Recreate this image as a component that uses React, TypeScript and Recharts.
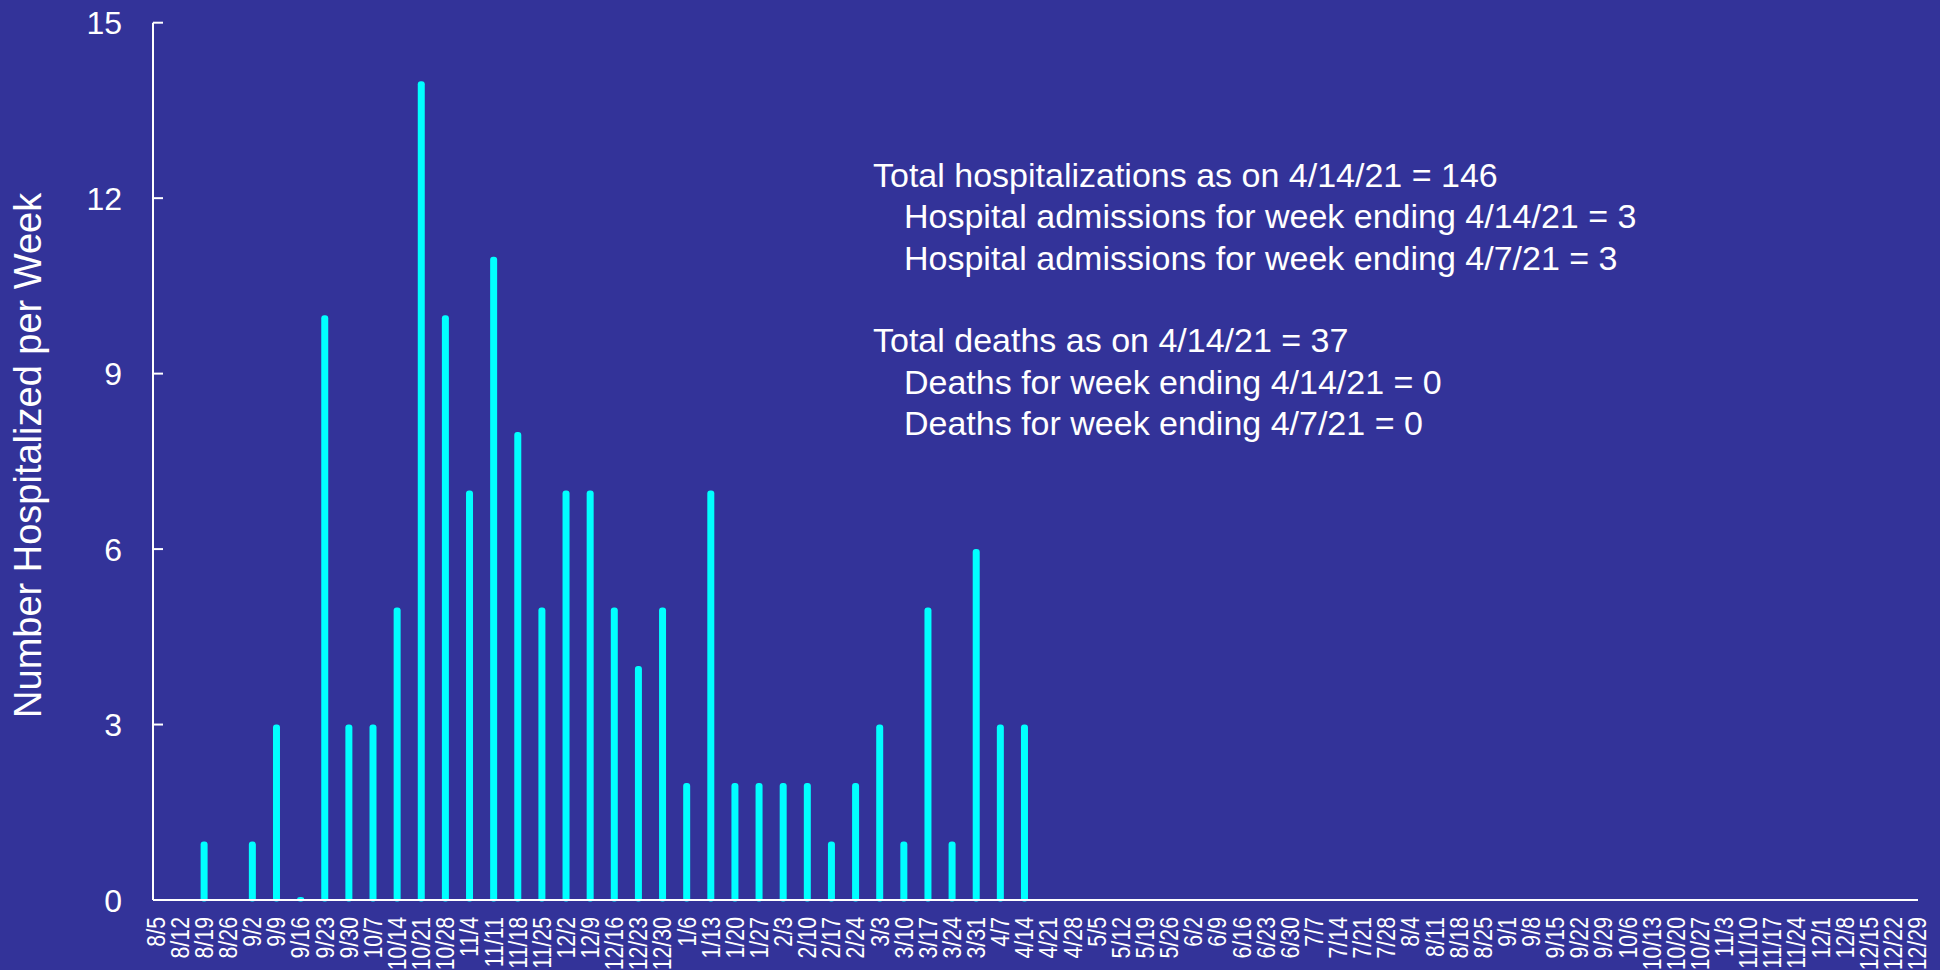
import { BarChart, Bar, XAxis, YAxis } from 'recharts';

const weeks = [
  '8/5', '8/12', '8/19', '8/26', '9/2', '9/9', '9/16', '9/23', '9/30', '10/7', '10/14', '10/21',
  '10/28', '11/4', '11/11', '11/18', '11/25', '12/2', '12/9', '12/16', '12/23', '12/30',
  '1/6', '1/13', '1/20', '1/27', '2/3', '2/10', '2/17', '2/24', '3/3', '3/10', '3/17', '3/24',
  '3/31', '4/7', '4/14', '4/21', '4/28', '5/5', '5/12', '5/19', '5/26', '6/2', '6/9', '6/16',
  '6/23', '6/30', '7/7', '7/14', '7/21', '7/28', '8/4', '8/11', '8/18', '8/25', '9/1', '9/8',
  '9/15', '9/22', '9/29', '10/6', '10/13', '10/20', '10/27', '11/3', '11/10', '11/17', '11/24',
  '12/1', '12/8', '12/15', '12/22', '12/29',
];

// weekly hospitalizations, reported through 4/14; null = no bar
const hospitalized: (number | null)[] = [
  null, null, 1, null, 1, 3, 0, 10, 3, 3, 5, 14, 10, 7, 11, 8, 5, 7, 7, 5, 4, 5,
  2, 7, 2, 2, 2, 2, 1, 2, 3, 1, 5, 1, 6, 3, 3,
];

const yTicks = [0, 3, 6, 9, 12, 15];

const notes = [
  { text: 'Total hospitalizations as on 4/14/21 = 146', indent: false },
  { text: 'Hospital admissions for week ending 4/14/21 = 3', indent: true },
  { text: 'Hospital admissions for week ending 4/7/21 = 3', indent: true },
  { text: '', indent: false },
  { text: 'Total deaths as on 4/14/21 = 37', indent: false },
  { text: 'Deaths for week ending 4/14/21 = 0', indent: true },
  { text: 'Deaths for week ending 4/7/21 = 0', indent: true },
];

const BG = '#333399';
const BAR = '#00FFFF';
const FONT = "'Liberation Sans', Arial, sans-serif";
const Y_GAP = 31;

const data = weeks.map((week, i) => ({ idx: i, week, value: hospitalized[i] ?? null }));

const StemBar = (props: any) => {
  const { x, y, width, height, payload } = props;
  if (payload == null || payload.value == null) return <g />;
  const h = Math.max(height || 0, 3);
  const top = y + (height || 0) - h;
  return <rect x={x} y={top} width={width} height={h + 1.5} rx={3} ry={3} fill={BAR} />;
};

const WeekTick = (props: any) => {
  const { x, y, payload } = props;
  return (
    <g transform={`translate(${x},${y}) rotate(-90)`}>
      <text
        transform="scale(0.82,1)"
        x={0}
        y={9.3}
        textAnchor="end"
        fill="#fff"
        fontSize={26}
        fontFamily={FONT}
      >
        {weeks[payload.value]}
      </text>
    </g>
  );
};

const CountTick = (props: any) => {
  const { x, y, payload } = props;
  return (
    <g>
      {payload.value !== 0 && (
        <line x1={x + Y_GAP} x2={x + Y_GAP + 10} y1={y} y2={y} stroke="#fff" strokeWidth={2} />
      )}
      <text x={x} y={y} dy="0.36em" textAnchor="end" fill="#fff" fontSize={32} fontFamily={FONT}>
        {payload.value}
      </text>
    </g>
  );
};

const YTitle = (props: any) => {
  const { viewBox } = props;
  const cx = viewBox.x - 12;
  const cy = viewBox.y + viewBox.height / 2 - 6;
  return (
    <text
      transform={`translate(${cx},${cy}) rotate(-90)`}
      textAnchor="middle"
      fill="#fff"
      fontSize={38}
      fontFamily={FONT}
    >
      Number Hospitalized per Week
    </text>
  );
};

export default function App() {
  return (
    <div
      style={{
        position: 'fixed',
        left: 0,
        top: 0,
        width: 1940,
        height: 970,
        background: BG,
        overflow: 'hidden',
      }}
    >
      <BarChart
        width={1940}
        height={970}
        data={data}
        margin={{ top: 22.7, right: 22, bottom: 0, left: 53 }}
      >
        <XAxis
          type="number"
          dataKey="idx"
          domain={[-0.1, 73.05]}
          ticks={weeks.map((_, i) => i)}
          interval={0}
          height={70}
          tickLine={false}
          tickSize={0}
          tickMargin={17}
          axisLine={{ stroke: '#fff', strokeWidth: 2 }}
          tick={<WeekTick />}
        />
        <YAxis
          type="number"
          domain={[0, 15]}
          ticks={yTicks}
          interval={0}
          width={100}
          tickLine={false}
          tickSize={0}
          tickMargin={Y_GAP}
          axisLine={{ stroke: '#fff', strokeWidth: 2 }}
          tick={<CountTick />}
          label={<YTitle />}
        />
        <Bar dataKey="value" barSize={7} shape={<StemBar />} isAnimationActive={false} />
      </BarChart>
      <svg
        width={1940}
        height={970}
        style={{ position: 'absolute', left: 0, top: 0, pointerEvents: 'none' }}
      >
        {notes.map((n, i) =>
          n.text ? (
            <text
              key={i}
              x={n.indent ? 904 : 873}
              y={186.7 + i * 41.4}
              fill="#fff"
              fontSize={34}
              fontFamily={FONT}
            >
              {n.text}
            </text>
          ) : null
        )}
      </svg>
    </div>
  );
}
